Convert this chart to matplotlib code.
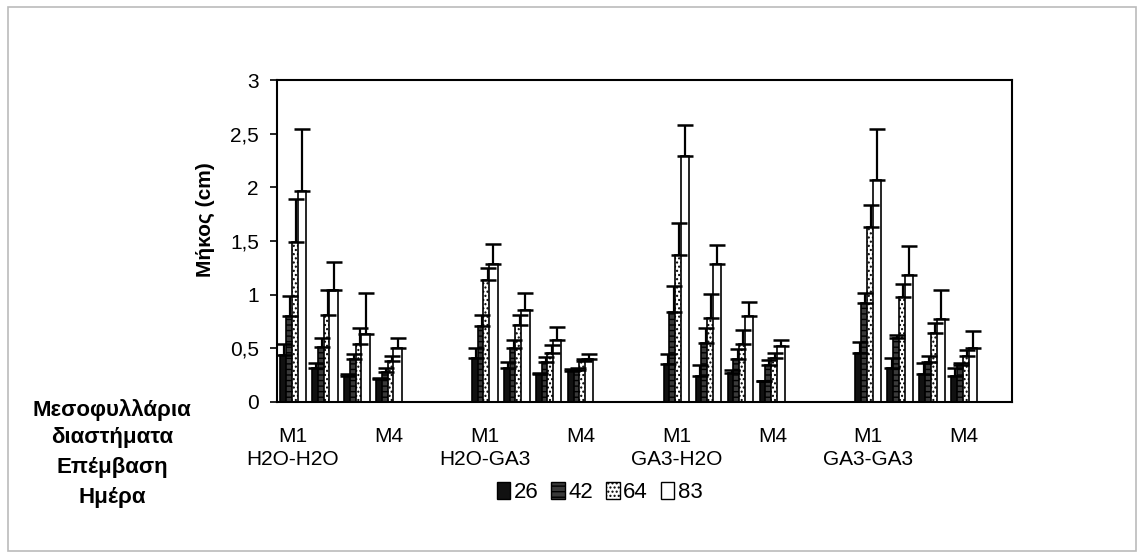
import matplotlib
matplotlib.use('Agg')
import matplotlib.pyplot as plt
from matplotlib.patches import Patch, Rectangle
import numpy as np

plt.rcParams['font.family'] = ['Liberation Sans', 'DejaVu Sans']
plt.rcParams['hatch.linewidth'] = 1.0

# treatments and mesophyll intervals
treatments = ['H2O-H2O', 'H2O-GA3', 'GA3-H2O', 'GA3-GA3']
intervals = ['M1', 'M2', 'M3', 'M4']
days = ['26', '42', '64', '83']

# length (cm), order: treatment -> M1..M4
d26 = [0.44, 0.32, 0.24, 0.21, 0.41, 0.32, 0.26, 0.29, 0.35, 0.24, 0.27, 0.20, 0.46, 0.32, 0.26, 0.24]
d42 = [0.80, 0.51, 0.40, 0.28, 0.71, 0.50, 0.37, 0.30, 0.84, 0.55, 0.40, 0.34, 0.92, 0.60, 0.37, 0.34]
d64 = [1.49, 0.81, 0.54, 0.38, 1.14, 0.72, 0.46, 0.38, 1.37, 0.78, 0.54, 0.41, 1.63, 0.98, 0.64, 0.43]
d83 = [1.97, 1.04, 0.63, 0.50, 1.29, 0.86, 0.58, 0.40, 2.29, 1.29, 0.80, 0.52, 2.07, 1.18, 0.77, 0.50]

# error (upper only)
e26 = [0.10, 0.04, 0.02, 0.01, 0.09, 0.05, 0.01, 0.02, 0.10, 0.10, 0.03, 0.00, 0.10, 0.09, 0.10, 0.08]
e42 = [0.19, 0.09, 0.05, 0.04, 0.10, 0.08, 0.05, 0.02, 0.24, 0.14, 0.09, 0.05, 0.10, 0.02, 0.06, 0.02]
e64 = [0.40, 0.23, 0.15, 0.05, 0.11, 0.09, 0.07, 0.02, 0.30, 0.23, 0.13, 0.05, 0.21, 0.12, 0.10, 0.05]
e83 = [0.57, 0.26, 0.39, 0.10, 0.18, 0.16, 0.12, 0.05, 0.29, 0.17, 0.13, 0.06, 0.47, 0.27, 0.27, 0.16]

series = [d26, d42, d64, d83]
errors = [e26, e42, e64, e83]
styles = [
    dict(facecolor='#111111', hatch=None),
    dict(facecolor='#3a3a3a', hatch='---'),
    dict(facecolor='white', hatch='....'),
    dict(facecolor='white', hatch=None),
]

# cluster positions: 6 slots per treatment (4 intervals + gap)
pos = np.array([6 * t + m for t in range(len(treatments)) for m in range(len(intervals))])

fig = plt.figure(figsize=(11.42, 5.58), dpi=100)
ax = fig.add_axes([0.2426, 0.2796, 0.6436, 0.5770])

width = 0.26
offsets = [-0.27, -0.09, 0.09, 0.27]
for vals, errs, st, off in zip(series, errors, styles, offsets):
    x = pos + off
    ax.bar(x, vals, width, color=st['facecolor'], edgecolor='black',
           hatch=st['hatch'], linewidth=1.2, zorder=2)
    ax.errorbar(x, vals, yerr=[np.zeros(len(vals)), errs], fmt='none',
                ecolor='black', elinewidth=1.6, capsize=6, capthick=1.8, zorder=3)

ax.set_xlim(-0.5, 22.5)
ax.set_ylim(0, 3)
ax.set_yticks([0, 0.5, 1, 1.5, 2, 2.5, 3])
ax.set_yticklabels(['0', '0,5', '1', '1,5', '2', '2,5', '3'], fontsize=15)
ax.tick_params(axis='y', direction='out', length=5, width=1.2, pad=8)

# only M1 and M4 are labelled on the axis
mpos = [6 * t + m for t in range(len(treatments)) for m in (0, 3)]
mlab = [intervals[m] for t in range(len(treatments)) for m in (0, 3)]
ax.set_xticks(mpos)
ax.set_xticklabels(mlab, fontsize=15)
ax.tick_params(axis='x', length=0, pad=18)

for t, name in enumerate(treatments):
    ax.text(6 * t, -0.18, name, transform=ax.get_xaxis_transform(),
            ha='center', va='center', fontsize=15)

for sp in ax.spines.values():
    sp.set_linewidth(1.5)

ax.set_ylabel('Μήκος (cm)', fontsize=15, fontweight='bold', va='center')
ax.yaxis.set_label_coords(-0.098, 0.565)

handles = [Patch(facecolor=st['facecolor'], edgecolor='black', hatch=st['hatch'])
           for st in styles]
fig.legend(handles, days, loc='center', bbox_to_anchor=(0.525, 0.118), ncol=4,
           frameon=False, fontsize=16, handlelength=0.6, handleheight=0.8,
           handletextpad=0.15, columnspacing=0.6)

label_x = 0.098
fig.text(label_x, 1 - 410 / 558, 'Μεσοφυλλάρια', ha='center', va='center',
         fontsize=16, fontweight='bold')
fig.text(label_x, 1 - 438 / 558, 'διαστήματα', ha='center', va='center',
         fontsize=16, fontweight='bold')
fig.text(label_x, 1 - 468 / 558, 'Επέμβαση', ha='center', va='center',
         fontsize=16, fontweight='bold')
fig.text(label_x, 1 - 497 / 558, 'Ημέρα', ha='center', va='center',
         fontsize=16, fontweight='bold')

# light frame around the whole chart
fig.patches.append(Rectangle((0.007, 0.012), 0.988, 0.975, transform=fig.transFigure,
                             fill=False, edgecolor='#bbbbbb', linewidth=1.2))

fig.savefig('out.png', dpi=100)
